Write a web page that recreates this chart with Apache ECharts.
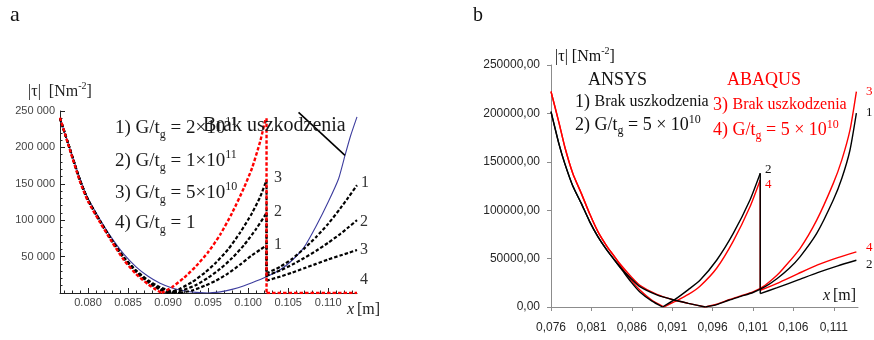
<!DOCTYPE html>
<html>
<head>
<meta charset="utf-8">
<script src="https://cdn.jsdelivr.net/npm/echarts@6/dist/echarts.min.js"></script>
<style>
html, body { margin: 0; padding: 0; background: #fff; }
#chart { width: 874px; height: 340px; }
</style>
</head>
<body>
<div id="chart"></div>
<script>
// ---- panel a (Mathematica style) ----
const aXTicks = [0.080, 0.085, 0.090, 0.095, 0.100, 0.105, 0.110];
const aYTicks = [50000, 100000, 150000, 200000, 250000];

// blue: Brak uszkodzenia
const aBlueDown = [[0.0765,240000],[0.0775,206000],[0.0790,157000],[0.0800,130000],[0.0815,101000],[0.0830,75000],[0.0845,53000],[0.0860,36000],[0.0875,23000],[0.0890,13500],[0.0905,7000],[0.0920,3000],[0.0935,800],[0.0950,0]];
const aBlueUp = [[0.0950,0],[0.0965,1500],[0.0980,5000],[0.0995,10000],[0.1010,16500],[0.1025,23500],[0.1040,32000],[0.1055,45000],[0.1070,63000],[0.1085,92000],[0.1100,125000],[0.1113,157000],[0.1121,189000],[0.1128,216000],[0.1136,242000]];

// red dashed: 4) G/tg = 1
const aRedDown = [[0.0765,241000],[0.0775,205000],[0.0790,153000],[0.0800,126000],[0.0815,97000],[0.0830,70000],[0.0845,45000],[0.0860,26000],[0.0875,12000],[0.0885,4500],[0.0892,0]];
const aRedUp = [[0.0892,0],[0.0905,8000],[0.0920,21000],[0.0935,37000],[0.0950,56000],[0.0965,80000],[0.0980,110000],[0.0995,145000],[0.1005,172000],[0.1015,208000],[0.1022,240000]];
const aRedDrop = [[0.1023,240000],[0.1023,0]];
const aRedFlat = [[0.1023,0],[0.1136,0]];

// black dashed 1, 2, 3
const aBlk1Down = [[0.0765,240000],[0.0775,206000],[0.0790,155000],[0.0800,128000],[0.0815,99000],[0.0830,72000],[0.0845,49000],[0.0860,31000],[0.0875,17500],[0.0890,8000],[0.0905,2200],[0.0915,0]];
const aBlk1Up = [[0.0915,0],[0.0930,3500],[0.0946,10000],[0.0960,17000],[0.0975,27000],[0.0990,39000],[0.1005,52000],[0.1015,59500],[0.1023,65500]];
const aBlk1Drop = [[0.1023,65500],[0.1023,27000]];
const aBlk1Right = [[0.1023,27000],[0.1040,36000],[0.1055,47000],[0.1070,61000],[0.1085,77000],[0.1100,95000],[0.1115,116000],[0.1125,131000],[0.1136,148000]];

const aBlk2Down = [[0.0765,240000],[0.0775,206000],[0.0790,155000],[0.0800,128000],[0.0815,99000],[0.0830,72000],[0.0845,48000],[0.0860,30000],[0.0875,16000],[0.0890,6000],[0.0907,0]];
const aBlk2Up = [[0.0907,0],[0.0920,4500],[0.0935,11000],[0.0950,21000],[0.0965,33000],[0.0980,48000],[0.0995,66000],[0.1010,88000],[0.1023,110000]];
const aBlk2Drop = [[0.1023,110000],[0.1023,24000]];
const aBlk2Right = [[0.1023,24000],[0.1040,31000],[0.1055,39000],[0.1070,48000],[0.1085,58000],[0.1100,69000],[0.1115,81000],[0.1125,90000],[0.1136,100000]];

const aBlk3Down = [[0.0765,240000],[0.0775,206000],[0.0790,154000],[0.0800,127000],[0.0815,98000],[0.0830,71000],[0.0845,47000],[0.0860,29000],[0.0875,14500],[0.0890,4500],[0.0900,0]];
const aBlk3Up = [[0.0900,0],[0.0915,6000],[0.0930,15000],[0.0946,28000],[0.0960,42000],[0.0975,60000],[0.0990,83000],[0.1005,110000],[0.1015,132000],[0.1023,155000]];
const aBlk3Drop = [[0.1023,155000],[0.1023,17000]];
const aBlk3Right = [[0.1023,17000],[0.1040,22500],[0.1055,28000],[0.1070,34000],[0.1085,40000],[0.1100,46000],[0.1115,51500],[0.1125,55000],[0.1136,59000]];

const aPointer = [[0.1063,248000],[0.1121,189000]];

// ---- panel b (Excel style) ----
const bXTicks = [0.076, 0.081, 0.086, 0.091, 0.096, 0.101, 0.106, 0.111];
const bYTicks = [0, 50000, 100000, 150000, 200000, 250000];

// ANSYS 1) Brak uszkodzenia
const bBlk1Down = [[0.0760,201900],[0.0770,168000],[0.0777,148400],[0.0787,125000],[0.07975,107000],[0.0808,88000],[0.08182,72500],[0.0829,59000],[0.08388,48300],[0.0849,38000],[0.0859,29500],[0.0870,21000],[0.0891,12500],[0.0911,7500],[0.0930,3800],[0.0951,0]];
const bBlk1Up = [[0.0951,0],[0.0965,2500],[0.0980,7000],[0.0995,11000],[0.1010,15000],[0.1025,21000],[0.1040,29500],[0.1055,40000],[0.10682,51800],[0.10889,76000],[0.11094,110500],[0.1120,133000],[0.11301,162200],[0.1138,200200]];
// ANSYS 2) G/tg = 5e10
const bBlk2Down = [[0.0760,201900],[0.0770,168000],[0.0777,148400],[0.0787,125000],[0.07975,107000],[0.0808,88000],[0.08182,72500],[0.0829,59000],[0.08388,48300],[0.0849,37000],[0.0859,26000],[0.0870,15500],[0.0885,6000],[0.0898,0]];
const bBlk2Up = [[0.0898,0],[0.0913,7600],[0.0930,18000],[0.09444,27600],[0.0965,48300],[0.09856,76000],[0.10063,110500],[0.1019,138100]];
const bBlk2Drop = [[0.1019,138100],[0.1019,13900]];
const bBlk2Right = [[0.1019,13900],[0.1040,20000],[0.1066,28000],[0.1090,35500],[0.1115,42500],[0.1138,48300]];
// ABAQUS 3) Brak uszkodzenia
const bRed3Down = [[0.0760,222600],[0.0770,190000],[0.0777,165600],[0.0787,138000],[0.07975,117400],[0.0808,96000],[0.08182,77600],[0.0829,63000],[0.08388,51800],[0.0849,41000],[0.0859,31500],[0.0870,22500],[0.0891,13000],[0.0911,7500],[0.0930,3800],[0.0951,0]];
const bRed3Up = [[0.0951,0],[0.0965,2800],[0.0980,7500],[0.0995,11500],[0.1010,15500],[0.1025,22500],[0.1040,33000],[0.10475,39700],[0.10682,60400],[0.10889,89700],[0.11094,127700],[0.1120,152000],[0.11301,182900],[0.1138,222600]];
// ABAQUS 4) G/tg = 5e10
const bRed4Down = [[0.0760,222600],[0.0770,190000],[0.0777,165600],[0.0787,138000],[0.07975,117400],[0.0808,96000],[0.08182,77600],[0.0829,63000],[0.08388,51800],[0.0849,39000],[0.0859,28000],[0.0870,17500],[0.0885,7000],[0.0900,0]];
const bRed4Up = [[0.0900,0],[0.0913,5500],[0.0930,13000],[0.09444,21500],[0.0965,40000],[0.09856,68000],[0.10063,103500],[0.1019,131200]];
const bRed4Drop = [[0.1019,131200],[0.1019,17300]];
const bRed4Right = [[0.1019,17300],[0.1040,24500],[0.1066,34500],[0.1090,43500],[0.1115,51000],[0.1138,56900]];

const RED = '#ff0000';
const BLK = '#000000';
const BLUE = '#3d3d9e';
const SERIF = 'Liberation Serif';
const SANS = 'Liberation Sans';

function branch(data, color, width, dashed, idx, smooth) {
  return {
    type: 'line', xAxisIndex: idx, yAxisIndex: idx, data: data,
    symbol: 'none', smooth: smooth === false ? false : 0.2,
    lineStyle: { color: color, width: width, type: dashed ? [3.5, 2] : 'solid' },
    silent: true
  };
}

// minor tick positions for panel a x axis (every 0.001)
const aXMinor = [];
for (let i = 77; i <= 113; i++) {
  if (i % 5 !== 0) aXMinor.push(i / 1000);
}

const series = [
  branch(aBlueDown, BLUE, 1.1, false, 0),
  branch(aBlueUp, BLUE, 1.1, false, 0),
  branch(aBlk1Down, BLK, 2.2, true, 0), branch(aBlk1Up, BLK, 2.2, true, 0),
  branch(aBlk1Drop, BLK, 2.2, true, 0, false), branch(aBlk1Right, BLK, 2.2, true, 0),
  branch(aBlk2Down, BLK, 2.2, true, 0), branch(aBlk2Up, BLK, 2.2, true, 0),
  branch(aBlk2Drop, BLK, 2.2, true, 0, false), branch(aBlk2Right, BLK, 2.2, true, 0),
  branch(aBlk3Down, BLK, 2.2, true, 0), branch(aBlk3Up, BLK, 2.2, true, 0),
  branch(aBlk3Drop, BLK, 2.2, true, 0, false), branch(aBlk3Right, BLK, 2.2, true, 0),
  branch(aRedDown, RED, 2.4, true, 0), branch(aRedUp, RED, 2.4, true, 0),
  branch(aRedDrop, RED, 2.4, true, 0, false), branch(aRedFlat, RED, 2.4, true, 0, false),
  branch(aPointer, BLK, 1.6, false, 0, false),

  branch(bRed3Down, RED, 1.4, false, 1), branch(bRed3Up, RED, 1.4, false, 1),
  branch(bRed4Down, RED, 1.4, false, 1), branch(bRed4Up, RED, 1.4, false, 1),
  branch(bRed4Drop, RED, 1.4, false, 1, false), branch(bRed4Right, RED, 1.4, false, 1),
  branch(bBlk1Down, BLK, 1.4, false, 1), branch(bBlk1Up, BLK, 1.4, false, 1),
  branch(bBlk2Down, BLK, 1.4, false, 1), branch(bBlk2Up, BLK, 1.4, false, 1),
  branch(bBlk2Drop, BLK, 1.4, false, 1, false), branch(bBlk2Right, BLK, 1.4, false, 1)
];

function richText(x, y, text, size, color, extra) {
  const small = Math.round(size * 0.65);
  const rich = {
    n: { fontFamily: SERIF, fontSize: size, lineHeight: Math.round(size * 1.3) },
    s: { fontFamily: SERIF, fontSize: small, lineHeight: small, verticalAlign: 'bottom' },
    p: { fontFamily: SERIF, fontSize: small, lineHeight: small, verticalAlign: 'top' }
  };
  Object.assign(rich, extra || {});
  return {
    type: 'text', x: x, y: y, silent: true, z: 100,
    style: { text: text, rich: rich, fill: color, fontFamily: SERIF, fontSize: size, align: 'left', verticalAlign: 'middle' }
  };
}
function plain(x, y, text, size, color, align, style) {
  return {
    type: 'text', x: x, y: y, silent: true, z: 100,
    style: { text: text, fill: color, fontFamily: SERIF, fontSize: size, fontStyle: style || 'normal', align: align || 'left', verticalAlign: 'middle' }
  };
}
const brakRich = { a: { fontFamily: SERIF, fontSize: 18 }, b: { fontFamily: SERIF, fontSize: 16 } };

const graphics = [
  plain(10, 15, 'a', 22, '#111'),
  plain(473, 16, 'b', 20, '#111'),
  // panel a axis names
  richText(28, 92, '{n||τ|  [Nm}{p|-2}{n|]}', 16, '#222'),
  plain(347, 310, 'x', 16, '#222', 'left', 'italic'),
  plain(357, 310, '[m]', 16, '#222'),
  // panel a legend
  richText(115, 128, '{n|1) G/t}{s|g}{n| = 2×10}{p|11}', 19, '#1a1a1a'),
  richText(115, 161, '{n|2) G/t}{s|g}{n| = 1×10}{p|11}', 19, '#1a1a1a'),
  richText(115, 193, '{n|3) G/t}{s|g}{n| = 5×10}{p|10}', 19, '#1a1a1a'),
  richText(115, 223, '{n|4) G/t}{s|g}{n| = 1}', 19, '#1a1a1a'),
  plain(203, 126, 'Brak uszkodzenia', 20, '#1a1a1a'),
  // panel a curve numbers
  plain(278, 178, '3', 16, '#333', 'center'),
  plain(278, 212, '2', 16, '#333', 'center'),
  plain(278, 245, '1', 16, '#333', 'center'),
  plain(365, 183, '1', 16, '#333', 'center'),
  plain(364, 222, '2', 16, '#333', 'center'),
  plain(364, 250, '3', 16, '#333', 'center'),
  plain(364, 280, '4', 16, '#333', 'center'),
  // panel b axis names
  richText(555, 57, '{n||τ| [Nm}{p|-2}{n|]}', 16, '#111'),
  plain(823, 296, 'x', 16, '#111', 'left', 'italic'),
  plain(833, 296, '[m]', 16, '#111'),
  // panel b legend
  plain(588, 80, 'ANSYS', 18, '#111'),
  plain(727, 80, 'ABAQUS', 18, RED),
  richText(575, 102, '{a|1) }{b|Brak uszkodzenia}', 18, '#111', brakRich),
  richText(575, 125, '{n|2) G/t}{s|g}{n| = 5 × 10}{p|10}', 18, '#111'),
  richText(713, 105, '{a|3) }{b|Brak uszkodzenia}', 18, RED, brakRich),
  richText(713, 130, '{n|4) G/t}{s|g}{n| = 5 × 10}{p|10}', 18, RED),
  // panel b curve numbers
  plain(866, 92, '3', 13, RED),
  plain(866, 113, '1', 13, '#111'),
  plain(765, 170, '2', 13, '#111'),
  plain(765, 185, '4', 13, RED),
  plain(866, 248, '4', 13, RED),
  plain(866, 265, '2', 13, '#111')
];

const option = {
  animation: false,
  grid: [
    { left: 60, top: 111, width: 297, height: 182, outerBoundsMode: 'none' },
    { left: 551, top: 65, width: 307, height: 242, outerBoundsMode: 'none' }
  ],
  xAxis: [
    {
      type: 'value', gridIndex: 0, position: 'bottom', min: 0.0765, max: 0.1136,
      axisLine: { onZero: false, lineStyle: { color: '#222', width: 1 } },
      axisTick: { inside: true, length: 2.5, customValues: aXMinor, lineStyle: { color: '#222' } },
      axisLabel: { show: false },
      splitLine: { show: false }
    },
    {
      type: 'value', gridIndex: 1, position: 'bottom', min: 0.076, max: 0.114,
      axisLine: { onZero: false, lineStyle: { color: '#8c8c8c', width: 1 } },
      axisTick: { inside: false, length: 4, customValues: bXTicks, lineStyle: { color: '#8c8c8c' } },
      axisLabel: {
        customValues: bXTicks, margin: 15, color: '#262626', fontFamily: SANS, fontSize: 12,
        formatter: v => v.toFixed(3).replace('.', ',')
      },
      splitLine: { show: false }
    },
    {
      type: 'value', gridIndex: 0, position: 'bottom', offset: 0, min: 0.0765, max: 0.1136,
      axisLine: { show: false, onZero: false },
      axisTick: { inside: true, length: 5, customValues: aXTicks, lineStyle: { color: '#222' } },
      axisLabel: {
        customValues: aXTicks, margin: 4, color: '#444', fontFamily: SANS, fontSize: 11,
        formatter: v => v.toFixed(3)
      },
      splitLine: { show: false }
    }
  ],
  yAxis: [
    {
      type: 'value', gridIndex: 0, min: 0, max: 250000, interval: 50000,
      axisLine: { show: true, onZero: false, lineStyle: { color: '#222', width: 1 } },
      axisTick: { show: true, inside: true, length: 5, lineStyle: { color: '#222' } },
      minorTick: { show: true, splitNumber: 5, length: 2.5, lineStyle: { color: '#222' } },
      axisLabel: {
        customValues: aYTicks, margin: 5, color: '#444', fontFamily: SANS, fontSize: 11,
        formatter: v => { const s = String(Math.round(v)); return s.slice(0, -3) + ' ' + s.slice(-3); }
      },
      splitLine: { show: false }
    },
    {
      type: 'value', gridIndex: 1, min: 0, max: 250000, interval: 50000,
      axisLine: { show: true, onZero: false, lineStyle: { color: '#8c8c8c', width: 1 } },
      axisTick: { show: true, inside: false, length: 4, lineStyle: { color: '#8c8c8c' } },
      axisLabel: {
        customValues: bYTicks, margin: 11, color: '#262626', fontFamily: SANS, fontSize: 12,
        formatter: v => v.toFixed(2).replace('.', ',')
      },
      splitLine: { show: false }
    }
  ],
  series: series,
  graphic: { elements: graphics }
};

const chart = echarts.init(document.getElementById('chart'));
chart.setOption(option);
</script>
</body>
</html>
